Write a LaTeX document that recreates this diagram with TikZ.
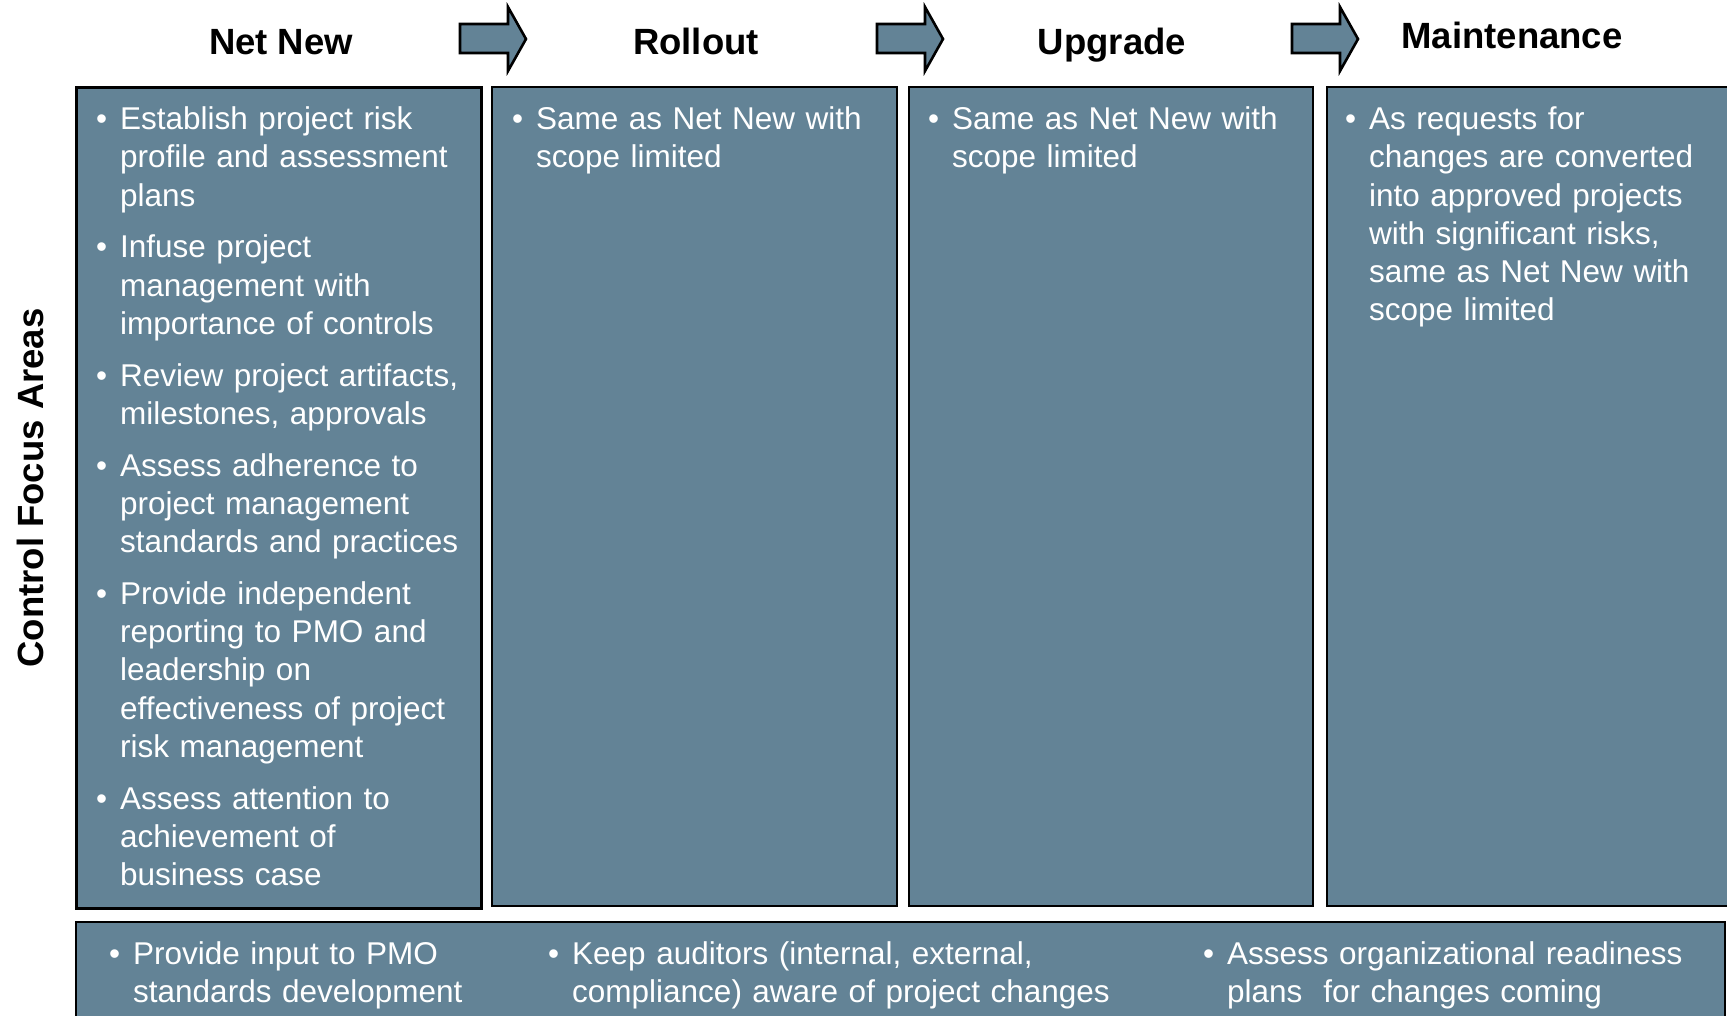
\documentclass[tikz,border=0pt]{standalone}
\usepackage{fontspec}
\setmainfont{Liberation Sans}
\definecolor{panelblue}{RGB}{99,131,150}
\newcommand{\bul}[1]{\par\hangindent=24pt\hangafter=1\noindent\makebox[24pt][l]{\textbullet}#1\par}
\tikzset{
  panel/.style={fill=panelblue,draw=black,line width=2.6pt},
  blockarrow/.style={fill=panelblue,draw=black,line width=2.6pt,line join=miter},
  head/.style={anchor=base,inner sep=0pt,font=\fontsize{36.5}{40}\selectfont\bfseries},
  itemtext/.style={anchor=north west,inner sep=0pt,text=white,align=left,
    font=\fontsize{31.5}{38.3}\selectfont\setlength{\parskip}{13.4pt}},
}
\begin{document}
\begin{tikzpicture}[x=1pt,y=-1pt,line cap=butt]
	\useasboundingbox (0,0) rectangle (1727,1015);
	\clip (0,0) rectangle (1727,1015);
	% phase headers and arrows
	\node[head] (netnew) at (281,54) {Net New};
	\node[head] (rollout) at (696,54) {Rollout};
	\node[head] (upgrade) at (1112,54) {Upgrade};
	\node[head] (maint) at (1512,48) {Maintenance};
	\foreach \x in {460,877,1292}
		\draw[blockarrow] (\x,24) -- (\x+48,24) -- (\x+48,7) -- (\x+66,39) -- (\x+48,71) -- (\x+48,53) -- (\x,53) -- cycle;
	\node[rotate=90,inner sep=0pt,font=\fontsize{36.5}{40}\selectfont\bfseries] (focus) at (30,488) {Control Focus Areas};
	% panels
	\draw[panel,line width=3pt] (76,87) rectangle (481,908);
	\draw[panel] (492,87) rectangle (897,906);
	\draw[panel] (909,87) rectangle (1313,906);
	\draw[panel] (1327,87) rectangle (1745,906);
	\draw[panel] (76,922) rectangle (1725,1040);
	% panel texts
	\node[itemtext,text width=380pt] (netnewtxt) at (96,77.5) {%
		\bul{Establish project risk\newline profile and assessment\newline plans}
		\bul{Infuse project\newline management with\newline importance of controls}
		\bul{Review project artifacts,\newline milestones, approvals}
		\bul{Assess adherence to\newline project management\newline standards and practices}
		\bul{Provide independent\newline reporting to PMO and\newline leadership on\newline effectiveness of project\newline risk management}
		\bul{Assess attention to\newline achievement of\newline business case}};
	\node[itemtext,text width=380pt] (rollouttxt) at (512,77.5) {\bul{Same as Net New with\newline scope limited}};
	\node[itemtext,text width=380pt] (upgradetxt) at (928,77.5) {\bul{Same as Net New with\newline scope limited}};
	\node[itemtext,text width=380pt] (mainttxt) at (1345,77.5) {%
		\bul{As requests for\newline changes are converted\newline into approved projects\newline with significant risks,\newline same as Net New with\newline scope limited}};
	% shared row
	\node[itemtext,text width=420pt] (pmotxt) at (109,912.5) {\bul{Provide input to PMO\newline standards development}};
	\node[itemtext,text width=600pt] (audittxt) at (548,912.5) {\bul{Keep auditors (internal, external,\newline compliance) aware of project changes}};
	\node[itemtext,text width=500pt] (readytxt) at (1203,912.5) {\bul{Assess organizational readiness\newline plans\ \ for changes coming}};
\end{tikzpicture}
\end{document}
